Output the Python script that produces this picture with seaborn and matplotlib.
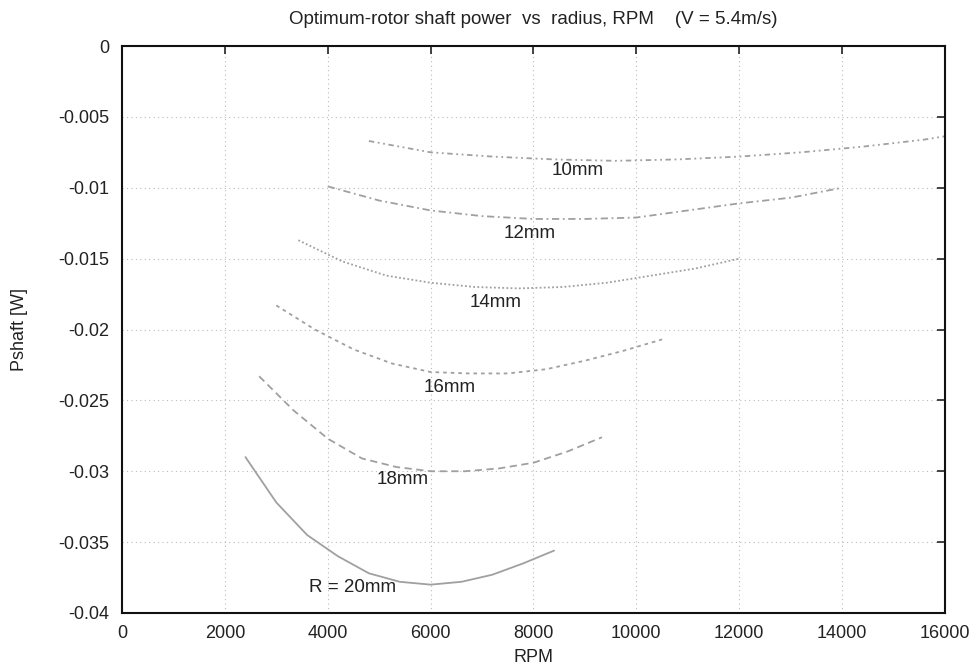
import matplotlib
matplotlib.use("Agg")
import matplotlib.pyplot as plt
import seaborn as sns
import pandas as pd

# Data
rpm_20 = [2400, 3000, 3600, 4200, 4800, 5400, 6000, 6600, 7200, 7800, 8400]
p_20 = [-0.0290, -0.0322, -0.0345, -0.0360, -0.0372, -0.0378, -0.0380, -0.0378, -0.0373, -0.0365, -0.0356]

rpm_18 = [2667, 3333, 4000, 4667, 5333, 6000, 6667, 7333, 8000, 8667, 9333]
p_18 = [-0.0233, -0.0257, -0.0277, -0.0291, -0.0297, -0.0300, -0.0300, -0.0298, -0.0294, -0.0286, -0.0276]

rpm_16 = [3000, 3750, 4500, 5250, 6000, 6750, 7500, 8250, 9000, 9750, 10500]
p_16 = [-0.0183, -0.0200, -0.0214, -0.0224, -0.0230, -0.0231, -0.0231, -0.0228, -0.0222, -0.0215, -0.0207]

rpm_14 = [3429, 4286, 5143, 6000, 6857, 7714, 8571, 9429, 10286, 11143, 12000]
p_14 = [-0.0137, -0.0152, -0.0162, -0.0167, -0.0170, -0.0171, -0.0170, -0.0167, -0.0162, -0.0157, -0.0150]

rpm_12 = [4000, 5000, 6000, 7000, 8000, 9000, 10000, 11000, 12000, 13000, 14000]
p_12 = [-0.0099, -0.0109, -0.0116, -0.0120, -0.0122, -0.0122, -0.0121, -0.0116, -0.0111, -0.0107, -0.0100]

rpm_10 = [4800, 6000, 7200, 8400, 9600, 10800, 12000, 13200, 14400, 15600, 16800]
p_10 = [-0.0067, -0.0075, -0.0078, -0.0080, -0.0081, -0.0080, -0.0078, -0.0075, -0.0071, -0.0066, -0.0059]

series_labels = ["R = 20mm", "18mm", "16mm", "14mm", "12mm", "10mm"]
label_x = [4490, 5463, 6377, 7255, 7931, 8864]
label_y = [-0.0382, -0.0306, -0.0241, -0.0181, -0.0132, -0.00875]

xticks = [0, 2000, 4000, 6000, 8000, 10000, 12000, 14000, 16000]
yticks = [0, -0.005, -0.01, -0.015, -0.02, -0.025, -0.03, -0.035, -0.04]
ytick_labels = ["0", "-0.005", "-0.01", "-0.015", "-0.02", "-0.025", "-0.03", "-0.035", "-0.04"]

sns.set_style("white")
plt.rcParams['font.family'] = ['Liberation Sans', 'DejaVu Sans']

fig = plt.figure(figsize=(9.72, 6.70), dpi=100)
ax = fig.add_axes([0.1255, 0.0851, 0.8467, 0.8462])

all_series = [(rpm_20, p_20), (rpm_18, p_18), (rpm_16, p_16),
              (rpm_14, p_14), (rpm_12, p_12), (rpm_10, p_10)]
styles = ["-", (0, (4, 2.5)), (0, (2, 2.2)), (0, (1, 1.3)),
          (0, (4, 2, 1, 2)), (0, (3, 2, 1, 2, 1, 2))]
color = "#a0a0a0"

for (xs, ys), ls in zip(all_series, styles):
    df = pd.DataFrame({"RPM": xs, "P": ys})
    sns.lineplot(data=df, x="RPM", y="P", ax=ax, color=color,
                 linestyle=ls, linewidth=1.3, sort=False)

for lab, lx, ly in zip(series_labels, label_x, label_y):
    ax.text(lx, ly, lab, ha="center", va="center", fontsize=13.5, color="#222222")

ax.set_xlim(0, 16000)
ax.set_ylim(-0.04, 0)
ax.set_xticks(xticks)
ax.set_yticks(yticks)
ax.set_yticklabels(ytick_labels)
ax.grid(True, linestyle=(0, (1, 3)), color="#bbbbbb", linewidth=0.8)
ax.tick_params(direction="in", length=6, width=1.2, top=True, right=True,
               labelsize=13, colors="#222222", pad=9)
for s in ax.spines.values():
    s.set_visible(True)
    s.set_color("#111111")
    s.set_linewidth(1.5)

ax.set_xlabel("RPM", fontsize=13, color="#222222", labelpad=5)
ax.set_ylabel("Pshaft [W]", fontsize=13, color="#222222", labelpad=22)
ax.set_title("Optimum-rotor shaft power  vs  radius, RPM    (V = 5.4m/s)",
             fontsize=13.5, color="#222222", pad=16)

fig.savefig("out.png", dpi=100, facecolor="white")
